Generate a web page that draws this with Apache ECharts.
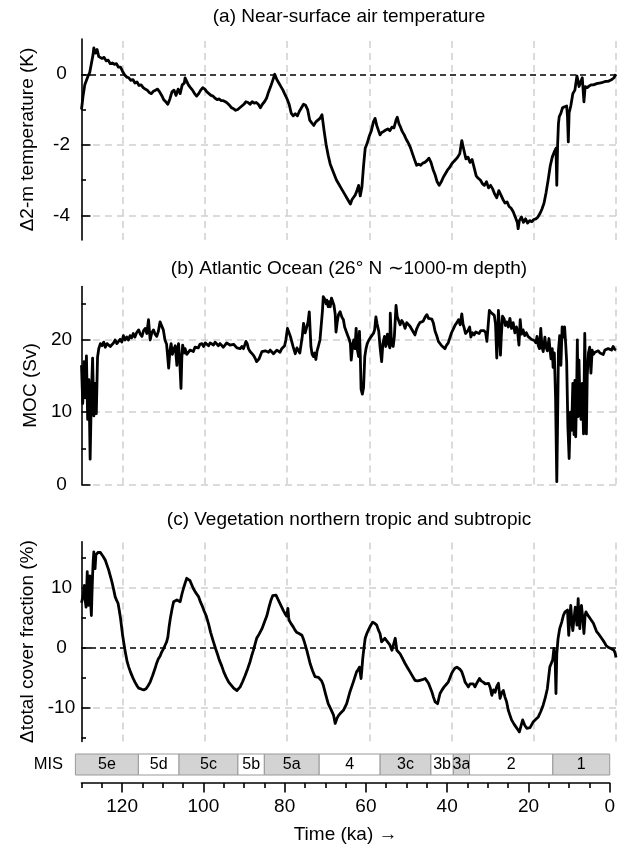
<!DOCTYPE html>
<html><head><meta charset="utf-8">
<script src="https://cdn.jsdelivr.net/npm/echarts@6/dist/echarts.min.js"></script>
<style>html,body{margin:0;padding:0;background:#fff}#c{width:618px;height:849px}</style>
</head><body><div id="c"></div>
<script>
// ---- data: [time (ka), value] ----
const tempSeries = [
[130,-1.0],[129.6,-0.6],[129.2,-0.3],[128.8,-0.25],[128.4,-0.05],[128.0,0.05],[127.6,0.3],[127.2,0.55],[127.0,0.75],[126.6,0.6],
[126.2,0.7],[125.8,0.5],[125.4,0.55],[125.0,0.45],[124.5,0.48],[124.0,0.38],[123.5,0.4],[123.0,0.3],[122.5,0.32],[122.0,0.28],
[121.5,0.3],[121.0,0.2],[120.5,0.2],[120.0,0.08],[119.5,-0.02],[119.0,-0.08],[118.5,-0.1],[118.0,-0.17],[117.5,-0.15],[117.0,-0.25],
[116.5,-0.22],[116.0,-0.32],[115.5,-0.3],[115.0,-0.38],[114.5,-0.42],[114.0,-0.45],[113.5,-0.52],[113.0,-0.55],[112.5,-0.48],[112.0,-0.45],
[111.5,-0.42],[111.0,-0.5],[110.5,-0.6],[110.0,-0.72],[109.5,-0.78],[109.0,-0.85],[108.5,-0.7],[108.0,-0.5],[107.5,-0.45],[107.0,-0.6],
[106.5,-0.42],[106.0,-0.55],[105.5,-0.3],[105.0,-0.25],[104.8,-0.1],[104.4,-0.2],[104.0,-0.3],[103.5,-0.38],[103.0,-0.45],[102.5,-0.55],
[102.0,-0.62],[101.5,-0.55],[101.0,-0.45],[100.5,-0.38],[100.0,-0.42],[99.5,-0.5],[99.0,-0.55],[98.5,-0.6],[98.0,-0.62],[97.5,-0.68],
[97.0,-0.72],[96.5,-0.7],[96.0,-0.75],[95.5,-0.75],[95.0,-0.78],[94.5,-0.82],[94.0,-0.88],[93.5,-0.95],[93.0,-0.98],[92.5,-1.02],
[92.0,-1.0],[91.5,-0.95],[91.0,-0.9],[90.5,-0.85],[90.0,-0.78],[89.5,-0.8],[89.0,-0.85],[88.5,-0.78],[88.0,-0.82],[87.5,-0.8],
[87.0,-0.85],[86.5,-0.95],[86.0,-0.85],[85.5,-0.78],[85.0,-0.68],[84.5,-0.5],[84.0,-0.35],[83.5,-0.18],[83.0,0.0],[82.5,-0.15],
[82.0,-0.25],[81.5,-0.35],[81.0,-0.45],[80.5,-0.58],[80.0,-0.7],[79.5,-0.85],[79.0,-1.1],[78.5,-1.18],[78.0,-1.12],[77.5,-1.18],
[77.0,-1.05],[76.5,-0.95],[76.0,-0.85],[75.5,-0.88],[75.0,-1.0],[74.5,-1.3],[74.0,-1.38],[73.5,-1.45],[73.0,-1.35],[72.5,-1.3],
[72.0,-1.25],[71.5,-1.15],[71.0,-1.6],[70.5,-2.0],[70.0,-2.3],[69.5,-2.55],[69.0,-2.7],[68.5,-2.85],[68.0,-3.0],[67.5,-3.1],
[67.0,-3.2],[66.5,-3.3],[66.0,-3.4],[65.5,-3.5],[65.0,-3.6],[64.6,-3.68],[64.2,-3.55],[63.8,-3.5],[63.4,-3.42],[63.0,-3.3],
[62.6,-3.15],[62.2,-3.45],[61.8,-3.2],[61.4,-2.6],[61.0,-2.1],[60.5,-1.95],[60.0,-1.75],[59.5,-1.6],[59.0,-1.35],[58.6,-1.25],
[58.2,-1.45],[57.8,-1.5],[57.4,-1.72],[57.0,-1.65],[56.5,-1.62],[56.0,-1.58],[55.5,-1.55],[55.0,-1.6],[54.5,-1.5],[54.0,-1.52],
[53.5,-1.3],[53.2,-1.22],[52.8,-1.4],[52.4,-1.5],[52.0,-1.62],[51.5,-1.72],[51.0,-1.85],[50.5,-1.95],[50.0,-2.08],[49.5,-2.25],
[49.0,-2.42],[48.5,-2.58],[48.0,-2.55],[47.5,-2.58],[47.0,-2.52],[46.5,-2.5],[46.0,-2.45],[45.5,-2.38],[45.0,-2.5],[44.5,-2.7],
[44.0,-2.85],[43.5,-3.05],[43.0,-3.15],[42.5,-3.05],[42.0,-2.92],[41.5,-2.82],[41.0,-2.72],[40.5,-2.65],[40.0,-2.55],[39.5,-2.48],
[39.0,-2.42],[38.5,-2.35],[38.0,-2.25],[37.5,-1.88],[37.0,-2.15],[36.5,-2.4],[36.0,-2.35],[35.5,-2.5],[35.0,-2.42],[34.5,-2.65],
[34.0,-2.88],[33.5,-2.95],[33.0,-3.0],[32.5,-3.1],[32.0,-3.15],[31.5,-3.05],[31.0,-3.22],[30.5,-3.15],[30.0,-3.25],[29.5,-3.4],
[29.0,-3.5],[28.5,-3.3],[28.0,-3.42],[27.5,-3.55],[27.0,-3.65],[26.5,-3.62],[26.0,-3.75],[25.5,-3.8],[25.0,-3.9],[24.5,-4.05],
[24.0,-4.2],[23.8,-4.38],[23.5,-4.15],[23.0,-4.05],[22.5,-4.2],[22.0,-4.1],[21.5,-4.22],[21.0,-4.15],[20.5,-4.18],[20.0,-4.12],
[19.5,-4.1],[19.0,-4.05],[18.5,-3.95],[18.0,-3.82],[17.5,-3.65],[17.0,-3.35],[16.5,-3.0],[16.0,-2.6],[15.5,-2.35],[15.0,-2.2],
[14.6,-2.1],[14.4,-3.15],[14.2,-2.0],[14.0,-1.4],[13.8,-1.2],[13.4,-1.1],[13.0,-0.95],[12.5,-0.92],[12.0,-0.9],[11.8,-1.2],
[11.6,-1.92],[11.4,-1.1],[11.0,-0.9],[10.5,-0.55],[10.0,-0.45],[9.5,-0.05],[9.2,-0.2],[9.0,-0.35],[8.6,-0.4],[8.2,-0.1],
[7.8,-0.78],[7.5,-0.35],[7.0,-0.38],[6.5,-0.33],[6.0,-0.3],[5.5,-0.3],[5.0,-0.28],[4.5,-0.26],[4.0,-0.25],[3.5,-0.24],
[3.0,-0.22],[2.5,-0.2],[2.0,-0.2],[1.5,-0.18],[1.0,-0.15],[0.5,-0.1],[0.0,0.0]
];
const mocSeries = [
[130.0,16.5],[129.7,11.2],[129.4,17.0],[129.1,12.0],[128.8,17.8],[128.5,9.0],[128.2,14.5],[127.9,3.5],[127.6,12.5],[127.3,17.5],
[127.0,9.5],[126.7,14.0],[126.4,9.8],[126.1,17.6],[125.8,18.8],[125.4,19.5],[125.0,19.2],[124.6,19.7],[124.2,19.0],[123.8,19.5],
[123.4,19.7],[123.0,19.1],[122.6,18.9],[122.2,19.6],[121.8,20.0],[121.4,19.5],[121.0,19.3],[120.6,20.1],[120.2,19.7],[119.8,20.6],
[119.4,20.0],[119.0,20.4],[118.6,20.0],[118.2,20.6],[117.8,20.3],[117.4,20.9],[117.0,20.4],[116.6,21.0],[116.1,21.4],[115.7,20.8],
[115.3,20.5],[114.9,21.3],[114.5,21.6],[114.1,20.9],[113.7,22.8],[113.3,20.0],[112.9,21.0],[112.5,21.4],[112.1,20.8],[111.7,20.5],
[111.3,21.2],[110.9,22.5],[110.5,22.3],[110.1,21.4],[109.7,20.0],[109.3,19.4],[108.8,16.1],[108.5,18.5],[108.2,19.5],[107.9,18.0],
[107.6,18.6],[107.2,19.2],[106.8,16.5],[106.6,18.7],[106.4,19.5],[106.1,17.0],[105.8,13.3],[105.6,17.5],[105.4,19.3],[105.0,18.2],
[104.8,18.8],[104.4,18.0],[104.0,17.8],[103.6,18.6],[103.2,18.8],[102.8,18.4],[102.4,19.0],[102.0,19.2],[101.6,18.9],[101.2,19.4],
[100.7,19.5],[100.3,19.1],[99.9,19.6],[99.5,19.7],[99.1,19.2],[98.7,19.6],[98.3,19.5],[97.9,19.3],[97.5,19.7],[97.1,19.6],
[96.7,19.2],[96.3,19.5],[95.9,19.5],[95.5,19.0],[95.1,19.3],[94.7,19.6],[94.3,19.8],[93.9,19.3],[93.5,19.1],[93.0,19.4],
[92.6,19.3],[92.2,18.9],[91.8,19.0],[91.4,18.8],[91.0,19.1],[90.6,18.8],[90.0,19.8],[89.7,19.5],[89.4,18.8],[89.0,18.4],
[88.6,18.2],[88.2,17.9],[87.8,17.5],[87.4,17.0],[87.1,16.8],[86.8,17.4],[86.4,18.0],[86.1,18.4],[85.7,18.2],[85.3,18.5],
[84.9,18.6],[84.5,18.3],[84.1,18.6],[83.7,18.4],[83.3,18.1],[82.9,18.1],[82.5,18.6],[82.1,18.5],[81.7,18.3],[81.3,18.8],
[80.9,18.8],[80.6,19.2],[80.3,20.0],[79.9,21.6],[79.6,21.4],[79.2,20.5],[78.9,20.3],[78.5,19.0],[78.0,18.1],[77.6,18.9],
[77.2,19.1],[76.9,18.2],[76.6,18.1],[76.3,20.5],[76.0,22.3],[75.6,21.0],[75.2,21.8],[74.9,22.5],[74.6,23.9],[74.4,21.5],
[74.2,19.1],[73.9,18.0],[73.6,17.7],[73.3,18.2],[73.0,17.3],[72.7,18.5],[72.4,19.1],[72.0,20.0],[71.7,20.2],[71.4,24.0],
[71.2,26.0],[70.8,25.6],[70.5,25.0],[70.3,25.5],[70.0,24.6],[69.7,25.3],[69.5,24.6],[69.2,25.8],[68.9,26.0],[68.6,24.8],
[68.3,23.6],[68.1,21.1],[67.8,22.5],[67.5,23.5],[67.1,23.9],[66.7,23.2],[66.3,22.8],[66.0,21.8],[65.7,21.7],[65.3,20.7],
[64.9,20.1],[64.6,19.5],[64.4,17.2],[64.1,19.0],[63.8,20.0],[63.5,18.8],[63.2,21.6],[62.9,18.6],[62.6,17.7],[62.4,21.2],
[62.2,18.0],[62.0,13.2],[61.7,12.5],[61.4,13.4],[61.1,17.7],[60.8,18.8],[60.5,19.5],[60.1,20.0],[59.8,20.2],[59.4,20.6],
[59.0,20.9],[58.7,21.4],[58.4,23.2],[58.1,22.2],[57.7,21.2],[57.4,19.1],[57.0,17.0],[56.7,19.5],[56.3,20.5],[56.0,19.1],
[55.6,20.8],[55.3,19.5],[55.0,18.9],[54.9,23.7],[54.6,19.4],[54.2,19.1],[53.9,20.5],[53.5,24.8],[53.2,23.2],[52.8,22.6],
[52.5,22.1],[52.1,22.7],[51.7,22.3],[51.3,21.6],[50.9,22.4],[50.5,22.5],[50.1,21.9],[49.7,21.7],[49.3,21.1],[48.9,20.7],
[48.5,21.5],[48.1,22.0],[47.7,22.4],[47.3,22.5],[46.9,22.6],[46.4,23.2],[46.0,23.5],[45.6,23.0],[45.2,23.2],[44.8,22.9],
[44.4,22.3],[44.0,21.2],[43.6,20.6],[43.2,19.8],[42.8,19.6],[42.4,19.2],[42.0,19.0],[41.6,18.8],[41.2,19.3],[40.8,19.6],
[40.4,20.3],[40.0,21.0],[39.5,21.6],[39.1,22.1],[38.7,22.4],[38.3,22.8],[37.9,22.1],[37.5,23.6],[37.2,22.2],[36.9,21.6],
[36.6,20.9],[36.3,20.7],[36.0,21.3],[35.6,21.8],[35.3,20.4],[34.9,21.0],[34.5,20.7],[34.1,21.1],[33.7,21.2],[33.3,20.9],
[32.9,21.3],[32.5,21.1],[32.1,21.3],[31.7,21.0],[31.4,19.8],[31.1,22.0],[30.8,24.1],[30.4,23.8],[30.0,23.6],[29.6,23.4],
[29.3,22.2],[29.0,17.5],[28.8,20.0],[28.6,24.1],[28.3,21.5],[28.1,17.9],[27.9,20.5],[27.6,23.3],[27.2,22.9],[26.9,22.0],
[26.6,22.5],[26.2,21.8],[25.8,23.0],[25.4,21.6],[25.0,22.4],[24.6,21.0],[24.2,21.8],[23.9,21.0],[23.6,19.3],[23.3,22.8],
[23.0,20.8],[22.6,21.4],[22.2,20.6],[21.8,21.0],[21.4,20.5],[21.0,20.6],[20.6,20.1],[20.2,20.3],[19.8,19.9],[19.5,19.6],
[19.2,20.5],[18.9,19.2],[18.6,18.8],[18.3,21.6],[18.0,19.0],[17.7,18.4],[17.3,20.4],[17.0,19.0],[16.7,18.5],[16.3,20.2],
[16.0,18.4],[15.8,17.4],[15.5,18.8],[15.3,16.2],[15.0,18.2],[14.7,12.0],[14.4,0.4],[14.2,9.0],[14.0,18.5],[13.7,20.6],
[13.4,16.5],[13.1,21.8],[12.8,20.4],[12.5,21.8],[12.2,19.1],[12.0,17.0],[11.7,8.0],[11.4,3.6],[11.1,10.0],[10.8,7.5],
[10.5,14.0],[10.2,6.9],[10.0,14.4],[9.8,6.6],[9.6,12.0],[9.4,20.0],[9.2,9.4],[9.0,17.2],[8.8,12.0],[8.5,9.0],
[8.2,14.0],[7.9,7.0],[7.6,20.9],[7.4,14.5],[7.2,7.0],[7.0,15.0],[6.7,18.2],[6.4,19.0],[6.1,15.4],[5.8,18.6],
[5.5,18.0],[5.1,18.3],[4.7,18.1],[4.3,18.5],[3.9,18.2],[3.5,18.3],[3.1,18.0],[2.7,18.6],[2.3,18.4],[1.9,18.8],
[1.5,19.0],[1.1,18.6],[0.7,19.1],[0.3,18.7],[0.0,18.6]
];
const vegSeries = [
[130.0,7.5],[129.75,7.7],[129.5,9.0],[129.3,10.4],[129.1,8.0],[128.9,6.8],[128.75,9.5],[128.6,12.7],[128.45,9.0],[128.3,7.1],
[128.1,10.5],[127.95,12.0],[127.8,8.0],[127.6,5.4],[127.45,9.0],[127.3,12.1],[127.15,14.5],[127.0,16.0],[126.85,14.0],[126.7,13.2],
[126.5,15.5],[126.3,15.7],[126.0,15.9],[125.7,16.0],[125.4,15.9],[125.1,15.7],[124.7,15.2],[124.2,14.6],[123.8,13.8],[123.4,13.0],
[123.0,12.0],[122.6,11.0],[122.2,9.8],[121.8,8.5],[121.5,8.0],[121.1,7.4],[120.8,6.2],[120.5,4.9],[120.0,2.1],[119.5,-0.1],
[118.9,-2.3],[118.5,-3.2],[118.1,-4.0],[117.5,-5.0],[117.0,-5.7],[116.5,-6.3],[116.1,-6.7],[115.7,-6.9],[115.3,-6.9],[114.8,-7.0],
[114.3,-6.8],[113.8,-6.3],[113.3,-5.7],[112.7,-4.6],[112.1,-3.4],[111.7,-2.5],[111.3,-1.8],[110.9,-1.4],[110.5,-0.7],[110.1,-0.2],
[109.7,0.4],[109.3,1.0],[109.0,1.8],[108.7,3.5],[108.4,4.9],[108.0,6.4],[107.6,7.7],[107.2,8.0],[106.8,8.0],[106.4,7.9],
[106.0,7.7],[105.6,8.9],[105.2,9.9],[104.8,10.8],[104.4,11.6],[104.0,11.8],[103.6,11.2],[103.3,10.7],[102.8,9.9],[102.3,9.3],
[101.9,8.9],[101.5,8.5],[101.1,7.7],[100.7,7.1],[100.2,6.2],[99.7,5.4],[99.1,4.0],[98.6,2.6],[98.0,1.2],[97.4,-0.1],
[96.9,-1.1],[96.5,-2.0],[95.9,-3.0],[95.4,-4.0],[94.8,-4.9],[94.2,-5.7],[93.6,-6.2],[93.0,-6.7],[92.6,-6.9],[92.2,-7.1],
[91.8,-6.9],[91.4,-6.5],[90.8,-5.6],[90.2,-4.6],[89.6,-3.5],[89.0,-2.3],[88.6,-1.3],[88.2,-0.4],[87.8,0.6],[87.4,1.6],
[86.8,2.3],[86.1,3.2],[85.5,4.3],[84.9,5.4],[84.4,6.8],[83.9,8.0],[83.5,8.7],[83.1,8.9],[82.7,8.8],[82.3,8.5],
[81.8,7.5],[81.3,6.8],[80.9,6.2],[80.5,5.7],[80.1,5.3],[79.8,6.6],[79.6,5.0],[79.5,4.6],[79.0,4.0],[78.5,3.5],
[78.1,3.0],[77.7,2.6],[77.1,2.4],[76.4,2.1],[76.1,1.6],[75.8,1.0],[75.5,0.3],[75.2,-0.4],[74.8,-1.5],[74.4,-2.6],
[73.8,-3.8],[73.2,-4.8],[72.8,-5.0],[72.4,-4.9],[72.0,-5.0],[71.6,-5.5],[71.2,-6.2],[70.6,-7.8],[70.0,-9.3],[69.3,-10.3],
[68.7,-11.2],[68.3,-12.6],[67.9,-11.8],[67.5,-11.3],[66.9,-10.8],[66.3,-10.4],[65.5,-9.3],[64.7,-7.3],[63.9,-5.7],[63.1,-4.0],
[62.7,-3.6],[62.4,-3.2],[62.2,-4.2],[62.0,-5.1],[61.8,-3.5],[61.6,-1.8],[61.3,0.0],[61.0,1.6],[60.6,2.4],[60.2,3.0],
[59.7,3.7],[59.2,4.3],[58.7,4.1],[58.2,3.8],[57.8,3.0],[57.4,2.4],[57.0,1.0],[56.6,1.3],[56.2,1.6],[55.8,1.2],
[55.4,1.0],[55.0,0.5],[54.5,-0.4],[54.1,0.6],[53.7,1.6],[53.3,-0.4],[52.9,-0.6],[52.5,-1.0],[51.9,-1.8],[51.3,-2.6],
[50.7,-3.3],[50.1,-4.0],[49.5,-4.7],[48.9,-5.4],[48.3,-5.5],[47.7,-5.4],[47.1,-5.3],[46.4,-5.1],[46.0,-5.5],[45.6,-5.9],
[45.2,-6.6],[44.8,-7.3],[44.4,-8.2],[44.0,-9.0],[43.4,-9.3],[42.8,-7.6],[42.3,-7.0],[41.8,-6.5],[41.3,-6.1],[40.8,-5.7],
[40.4,-5.0],[40.0,-4.3],[39.6,-3.8],[39.2,-3.4],[38.7,-3.2],[38.3,-3.3],[37.9,-3.6],[37.5,-4.0],[37.1,-4.8],[36.7,-5.7],
[36.3,-6.1],[35.9,-6.5],[35.5,-6.0],[35.1,-5.7],[34.7,-6.0],[34.3,-6.5],[33.8,-5.8],[33.2,-5.1],[32.8,-5.5],[32.3,-5.7],
[31.8,-6.0],[31.4,-6.2],[31.0,-5.9],[30.6,-6.6],[30.2,-7.9],[29.8,-7.0],[29.4,-7.4],[29.0,-6.4],[28.6,-5.9],[28.2,-8.4],
[27.8,-7.5],[27.4,-7.1],[27.0,-8.2],[26.6,-9.0],[26.2,-10.4],[25.8,-11.2],[25.4,-12.0],[24.8,-12.7],[24.3,-13.2],[23.9,-13.6],
[23.5,-14.0],[23.1,-13.0],[22.7,-12.0],[22.2,-12.9],[21.7,-13.4],[21.3,-13.5],[20.9,-13.3],[20.5,-12.8],[20.1,-12.3],[19.5,-11.9],
[18.9,-11.5],[18.3,-10.6],[17.7,-9.5],[17.2,-8.3],[16.7,-6.8],[16.4,-5.0],[16.1,-3.2],[15.7,-2.5],[15.4,-2.0],[15.1,-0.1],
[14.8,-2.0],[14.6,-7.6],[14.4,-1.0],[14.1,1.5],[13.7,3.2],[13.2,4.3],[12.8,5.4],[12.4,6.0],[11.8,6.3],[11.5,2.1],
[11.2,5.5],[11.0,7.1],[10.7,4.0],[10.5,2.9],[10.2,5.0],[9.9,6.8],[9.7,5.5],[9.5,3.8],[9.2,8.2],[9.0,5.0],
[8.8,3.2],[8.6,6.0],[8.4,7.1],[8.1,5.0],[7.8,2.4],[7.5,5.5],[7.3,6.0],[6.9,5.5],[6.5,5.2],[6.0,4.6],
[5.5,4.1],[5.1,3.4],[4.7,2.7],[4.1,2.2],[3.5,1.6],[2.9,1.0],[2.4,0.4],[1.9,0.1],[1.5,-0.1],[1.0,-0.2],
[0.5,-0.4],[0.2,-0.9],[0.0,-1.6]
];
// ---- ticks ----
const timeTicks = [0,20,40,60,80,100,120];
const timeMinorTicks = [5,10,15,25,30,35,45,50,55,65,70,75,85,90,95,105,110,115,125,130];
const timeGridLines = [0,20,40,60,80,100,120];
const tempTicks = [-4,-2,0];
const tempMinorTicks = [-3,-1];
const tempGridLines = [-4,-2];
const mocTicks = [0,10,20];
const mocMinorTicks = [5,15,25];
const mocGridLines = [0,10,20];
const vegTicks = [-10,0,10];
const vegMinorTicks = [-15,-5,5,15];
const vegGridLines = [-10,10];
// ---- MIS stages ----
const misLabels = ['5e','5d','5c','5b','5a','4','3c','3b','3a','2','1'];
const misStart  = [131.5,116,106,91.5,85,71.5,56.5,44,38.5,34.5,14];
const misEnd    = [116,106,91.5,85,71.5,56.5,44,38.5,34.5,14,0];

const titles = ['(a) Near-surface air temperature','(b) Atlantic Ocean (26\u00b0 N \u223c1000-m depth)','(c) Vegetation northern tropic and subtropic'];
const yNames = ['\u03942-m temperature (K)','MOC (Sv)','\u0394total cover fraction (%)'];

const FONT = "'Liberation Sans', Arial, Helvetica, sans-serif";
const FS = 19;
const black = '#000';
const grids = [
  {left:81.5, right:2, top:39, height:201},
  {left:81.5, right:2, top:286.5, height:198},
  {left:81.5, right:2, top:541.7, height:199.8},
  {left:81.5, right:2, top:754, height:21}
];
const ranges = [[-4.7,1.0],[0,27.4],[-15.6,17.7]];
const majors = [tempTicks, mocTicks, vegTicks];
const minors = [tempMinorTicks, mocMinorTicks, vegMinorTicks];
const hGrid = [tempGridLines, mocGridLines, vegGridLines];
const nameGaps = [44, 40, 42];
const titleCenters = [16.7, 268.3, 520];

const xAxes = [], yAxes = [], series = [];
for (let i = 0; i < 3; i++) {
  xAxes.push({type:'value', gridIndex:i, min:0, max:130, inverse:true, show:false});
  yAxes.push({type:'value', gridIndex:i, position:'left', min:ranges[i][0], max:ranges[i][1], z:6,
    name:yNames[i], nameLocation:'middle', nameRotate:90, nameGap:nameGaps[i],
    nameTextStyle:{fontSize:FS, fontFamily:FONT, color:black},
    axisLine:{show:true, onZero:false, lineStyle:{color:black, width:1.6}},
    axisTick:{show:true, inside:true, length:9, customValues:majors[i], lineStyle:{color:black, width:1.6}},
    axisLabel:{show:true, customValues:majors[i], margin:20, align:'center', fontSize:FS, fontFamily:FONT, color:black},
    splitLine:{show:false}});
  yAxes.push({type:'value', gridIndex:i, position:'left', offset:0, min:ranges[i][0], max:ranges[i][1], z:6,
    axisLine:{show:false, onZero:false},
    axisTick:{show:true, inside:true, length:4.5, customValues:minors[i], lineStyle:{color:black, width:1.6}},
    axisLabel:{show:false}, splitLine:{show:false}});
}
// MIS / time axis
xAxes.push({type:'value', gridIndex:3, min:0, max:130, inverse:true, position:'bottom', offset:8,
  name:'Time (ka) \u2192', nameLocation:'middle', nameGap:42,
  nameTextStyle:{fontSize:FS, fontFamily:FONT, color:black},
  axisLine:{show:true, onZero:false, lineStyle:{color:black, width:1.6}},
  axisTick:{show:true, inside:false, length:9.5, customValues:timeTicks, lineStyle:{color:black, width:1.6}},
  axisLabel:{show:true, customValues:timeTicks, margin:14, fontSize:FS, fontFamily:FONT, color:black,
    alignMinLabel:'center', alignMaxLabel:'center', hideOverlap:false},
  splitLine:{show:false}});
xAxes.push({type:'value', gridIndex:3, min:0, max:130, inverse:true, position:'bottom', offset:8,
  axisLine:{show:false, onZero:false},
  axisTick:{show:true, inside:false, length:5, customValues:timeMinorTicks, lineStyle:{color:black, width:1.6}},
  axisLabel:{show:false}, splitLine:{show:false}});
yAxes.push({type:'category', gridIndex:3, data:['MIS'], axisLine:{show:false}, axisTick:{show:false},
  axisLabel:{margin:18.5, fontSize:16.5, fontFamily:FONT, color:black}, splitLine:{show:false}});

const datasets = [tempSeries, mocSeries, vegSeries];
for (let i = 0; i < 3; i++) {
  const ml = timeGridLines.map(v => ({xAxis:v})).concat(hGrid[i].map(v => ({yAxis:v})));
  if (i !== 1) ml.push({yAxis:0, lineStyle:{color:black, type:[6,4], width:1.6}});
  series.push({type:'line', xAxisIndex:i, yAxisIndex:2*i, data:[], silent:true, animation:false,
    markLine:{silent:true, animation:false, symbol:['none','none'], label:{show:false},
      lineStyle:{color:'#cfcfcf', type:[7,5], width:1.5}, data:ml}});
  series.push({type:'line', xAxisIndex:i, yAxisIndex:2*i, data:datasets[i], showSymbol:false, symbol:'none',
    lineStyle:{color:black, width:2.8, join:'round'}, z:10, animation:false});
}
series.push({type:'custom', xAxisIndex:3, yAxisIndex:6, clip:false, animation:false,
  data: misLabels.map((l, i) => [misStart[i], misEnd[i], i]),
  renderItem: (params, api) => {
    const i = api.value(2);
    const p0 = api.coord([api.value(0), 0]);
    const p1 = api.coord([api.value(1), 0]);
    const h = api.size([0, 1])[1];
    return {type:'group', children:[
      {type:'rect', shape:{x:p0[0], y:p0[1]-h/2, width:p1[0]-p0[0], height:h},
       style:{fill: i % 2 === 0 ? '#d3d3d3' : '#ffffff', stroke:'#999999', lineWidth:1}},
      {type:'text', style:{text:misLabels[i], x:(p0[0]+p1[0])/2, y:p0[1], align:'center', verticalAlign:'middle',
       fontSize:16, fontFamily:FONT, fill:black}}
    ]};
  }});

const chart = echarts.init(document.getElementById('c'), null, {renderer:'canvas'});
chart.setOption({
  animation:false,
  backgroundColor:'#fff',
  title: titles.map((t, i) => ({text:t, left:349, top:titleCenters[i]-11, textAlign:'center', padding:0,
    textStyle:{fontSize:FS, fontWeight:'normal', fontFamily:FONT, color:black, lineHeight:22}})),
  grid: grids,
  xAxis: xAxes,
  yAxis: yAxes,
  series: series
});
</script></body></html>
